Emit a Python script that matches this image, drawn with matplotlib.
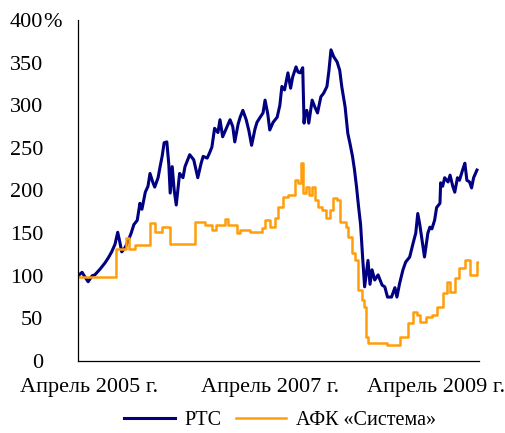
import matplotlib.pyplot as plt

plt.rcParams['font.family'] = ['Liberation Serif', 'DejaVu Serif']

# месяцы с апреля 2005 г., значения в % к начальному уровню
rts_x = [0.0, 0.6, 1.0, 1.5, 2.1, 2.5, 3.3, 4.0, 4.5, 5.0, 5.5, 5.9, 6.2, 6.5, 7.0,
         7.4, 7.9, 8.3, 8.8, 9.2, 9.5, 10.0, 10.4, 10.7, 11.1, 11.4, 11.9, 12.2,
         12.5, 12.8, 13.2, 13.5, 13.7, 14.0, 14.3, 14.6, 14.9, 15.1, 15.6, 15.9,
         16.6, 17.2, 17.8, 18.3, 18.6, 19.2, 19.6, 19.9, 20.3, 20.8, 21.1, 21.5,
         22.0, 22.6, 23.0, 23.3, 23.8, 24.1, 24.5, 25.0, 25.4, 25.8, 26.3, 26.6,
         27.0, 27.5, 27.8, 28.2, 28.5, 29.0, 29.6, 30.0, 30.3, 30.7, 31.2, 31.6,
         31.9, 32.4, 32.7, 33.0, 33.4, 33.6, 33.7, 34.0, 34.3, 34.8, 35.2, 35.6,
         36.1, 36.5, 37.0, 37.3, 37.6, 38.0, 38.5, 38.9, 39.2, 39.7, 40.1, 40.4,
         40.8, 41.1, 41.4, 41.7, 42.0, 42.3, 42.6, 43.1, 43.4, 43.7, 44.1, 44.6,
         45.2, 45.6, 46.0, 46.6, 47.1, 47.4, 47.8, 48.3, 48.7, 49.3, 49.8, 50.2,
         50.5, 50.8, 51.1, 51.5, 52.0, 52.3, 52.6, 53.0, 53.3, 53.8, 53.9, 54.2,
         54.5, 55.0, 55.3, 55.7, 56.0, 56.4, 56.7, 57.2, 57.5, 57.8, 58.2, 58.5,
         58.8, 59.3]
rts_y = [100, 104, 99, 93, 100, 101, 108, 115, 121, 128, 137, 151, 140, 128, 133,
         140, 150, 160, 165, 185, 178, 198, 205, 220, 210, 204, 215, 228,
         240, 256, 257, 230, 197, 228, 200, 183, 205, 220, 215, 228,
         242, 236, 215, 232, 240, 238, 245, 251, 273, 268, 283, 263,
         272, 283, 275, 257, 278, 286, 294, 283, 270, 253, 272, 280,
         285, 291, 306, 290, 271, 280, 286, 300, 322, 318, 338, 320,
         333, 345, 339, 338, 344, 279, 290, 294, 279, 306, 298, 291,
         310, 314, 322, 341, 365, 357, 351, 341, 322, 298, 267, 256,
         240, 224, 204, 181, 160, 122, 87, 118, 90, 107, 95, 101,
         89, 87, 75, 75, 86, 75, 91, 107, 116, 122, 138, 150,
         173, 160, 144, 122, 150, 157, 155, 165, 180, 185, 209, 205,
         215, 210, 218, 205, 198, 215, 212, 225, 232, 212, 210, 203,
         215, 224]

afk_x = [0.0, 5.6, 7.1, 7.6, 8.5, 10.7, 11.4, 12.5, 13.7, 17.4, 18.9, 19.9, 20.5,
         21.8, 22.3, 23.6, 24.1, 25.5, 27.3, 27.8, 28.5, 29.3, 29.7, 30.4, 31.2,
         32.2, 32.7, 33.1, 33.4, 33.9, 34.3, 34.8, 35.2, 35.6, 36.2, 36.8, 37.4,
         37.9, 38.5, 38.9, 39.8, 40.1, 40.7, 41.1, 41.6, 42.2, 42.5, 42.8, 43.1,
         46.0, 47.8, 49.0, 49.8, 50.4, 50.8, 51.7, 52.6, 53.3, 54.2, 54.8, 55.3,
         56.0, 56.7, 57.5, 58.2, 59.3, 59.6]
afk_y = [98.5, 131, 144, 131, 136, 162, 151, 157, 137, 163, 160, 154, 160,
         166, 160, 150, 154, 151, 156, 165, 157, 168, 181, 192, 195,
         212, 209, 232, 197, 204, 195, 204, 189, 181, 177, 168, 177,
         191, 189, 163, 157, 146, 127, 118, 83, 72, 63, 28, 21,
         19, 28, 44, 58, 54, 46, 52, 54, 63, 80, 93, 81,
         97, 109, 118, 101, 116, 116]

tick_pos = [1.6, 28.5, 53.2]
tick_labels = ['Апрель 2005 г.', 'Апрель 2007 г.', 'Апрель 2009 г.']
y_ticks = [0, 50, 100, 150, 200, 250, 300, 350, 400]

fig = plt.figure(figsize=(5.05, 4.33), dpi=100)
ax = fig.add_axes([0.1545, 0.1663, 0.794, 0.7875])

ax.plot(rts_x, rts_y, color='#000080', lw=2.2, label='РТС')
ax.plot(afk_x, afk_y, color='#FF9E0A', lw=1.8, drawstyle='steps-post',
        label='АФК «Система»')

ax.set_xlim(0, 59.6)
ax.set_ylim(0, 400)
ax.set_yticks(y_ticks)
ax.set_yticklabels([str(v) for v in y_ticks])
ax.set_xticks(tick_pos)
ax.set_xticklabels(tick_labels)
ax.tick_params(length=0, labelsize=16, colors='black')
ax.tick_params(axis='y', pad=25)
ax.tick_params(axis='x', pad=12)
ax.annotate('%', xy=(0, 400), xycoords=('axes fraction', 'data'),
            xytext=(-25, 0), textcoords='offset points',
            ha='left', va='center_baseline', fontsize=16)

for s in ['top', 'right']:
    ax.spines[s].set_visible(False)
for s in ['left', 'bottom']:
    ax.spines[s].set_linewidth(0.9)

fig.legend(loc='center', bbox_to_anchor=(0.555, 0.028), ncol=2, frameon=False,
           fontsize=14.5, handlelength=2.5, columnspacing=0.7, handletextpad=0.5,
           borderpad=0.2)

fig.savefig('out.png', dpi=100)
